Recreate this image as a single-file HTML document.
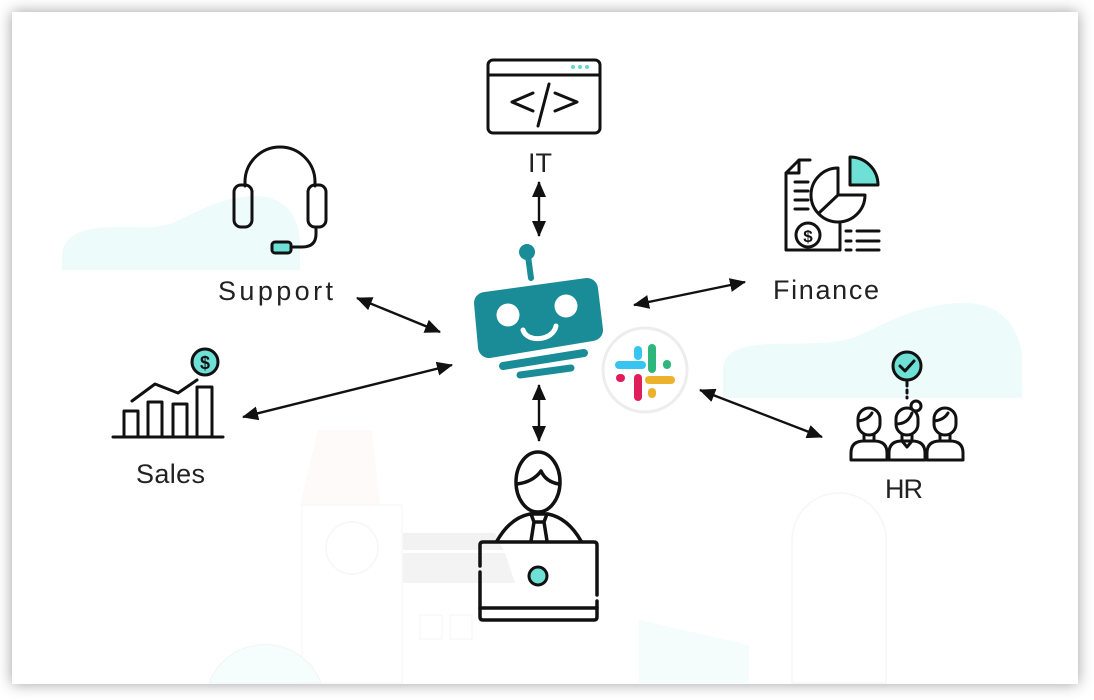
<!DOCTYPE html>
<html><head><meta charset="utf-8"><style>
html,body{margin:0;padding:0;background:#fff;width:1094px;height:700px;overflow:hidden;}
.card{position:absolute;left:12px;top:12px;width:1066px;height:672px;background:#fff;box-shadow:0 0 14px rgba(0,0,0,0.38);}
svg{position:absolute;left:0;top:0;display:block;}
text{font-family:"Liberation Sans",sans-serif;fill:#222;}
</style></head><body>
<div class="card"></div>
<svg width="1094" height="690" viewBox="0 0 1094 690" xmlns="http://www.w3.org/2000/svg">
<defs>
<marker id="ah" markerUnits="userSpaceOnUse" markerWidth="16" markerHeight="14" viewBox="0 0 16 14" refX="15" refY="7" orient="auto-start-reverse">
<path d="M0,0 L16,7 L0,14 z" fill="#111"/>
</marker>
</defs>
<!-- background decorations -->
<path d="M62,270 L62,258 C62,236 80,228 110,227 C140,226 155,230 175,222 C200,210 225,196 255,196 C285,196 298,215 300,240 L300,270 Z" fill="#eefbfb"/>
<path d="M723,398 L723,370 C723,352 740,345 770,344 C810,343 835,345 860,335 C895,318 925,303 965,303 C1000,303 1018,325 1022,355 L1022,398 Z" fill="#eefbfb"/>
<path d="M403,533 L495,533 L503,550 L403,550 Z" fill="#f2f2f2"/>
<path d="M403,553 L505,553 L515,583 L403,583 Z" fill="#f3f3f3"/>
<path d="M318,430 L372,430 L380,505 L300,505 Z" fill="#fefafa"/>
<rect x="302" y="505" width="100" height="178" fill="none" stroke="#f8f8f8" stroke-width="1.5"/>
<circle cx="352" cy="548" r="26" fill="none" stroke="#f6f6f6" stroke-width="1.5"/>
<path d="M209,683 A60,60 0 0 1 321,683 Z" fill="#f6fdfd" stroke="#f4f4f4"/>
<path d="M639,620 L749,645 L749,683 L639,683 Z" fill="#f4fcfc"/>
<path d="M792,540 A47,47 0 0 1 886,540 L886,683 L792,683 Z" fill="none" stroke="#f6f6f6" stroke-width="1.5"/>
<rect x="420" y="615" width="22" height="24" fill="none" stroke="#f4f4f4"/>
<rect x="450" y="615" width="22" height="24" fill="none" stroke="#f4f4f4"/>

<!-- arrows -->
<g stroke="#111" stroke-width="2.4" fill="none" marker-start="url(#ah)" marker-end="url(#ah)">
<line x1="357" y1="298" x2="440" y2="332"/>
<line x1="243" y1="417" x2="452" y2="365"/>
<line x1="539" y1="182" x2="539" y2="236"/>
<line x1="539" y1="385" x2="539" y2="441"/>
<line x1="634" y1="305" x2="745" y2="282"/>
<line x1="700" y1="390" x2="822" y2="437"/>
</g>

<!-- robot -->
<g fill="#1a8c98">
<circle cx="527" cy="252" r="8"/>
<line x1="528" y1="256" x2="531" y2="278" stroke="#1a8c98" stroke-width="6" stroke-linecap="round"/>
<polygon points="485,303 587,289 592,330 489,347" stroke="#1a8c98" stroke-width="22" stroke-linejoin="round"/>
<line x1="503" y1="366" x2="584" y2="353" stroke="#1a8c98" stroke-width="8" stroke-linecap="round"/>
<line x1="520" y1="375" x2="571" y2="368" stroke="#1a8c98" stroke-width="7" stroke-linecap="round"/>
</g>
<circle cx="508" cy="315" r="11.5" fill="#fff"/>
<circle cx="566" cy="306" r="11.5" fill="#fff"/>
<path d="M523,330 C527,343 553,341 556,326" fill="none" stroke="#fff" stroke-width="5" stroke-linecap="round"/>

<!-- slack -->
<circle cx="645" cy="370" r="42" fill="#fff" stroke="#ededed" stroke-width="3"/>
<g stroke-width="8" stroke-linecap="round" fill="none">
<line x1="619" y1="365" x2="642" y2="365" stroke="#36C5F0"/>
<line x1="638" y1="350" x2="638" y2="356" stroke="#36C5F0"/>
<line x1="652" y1="348" x2="652" y2="369" stroke="#2EB67D"/>
<line x1="667" y1="364" x2="667" y2="365" stroke="#2EB67D"/>
<line x1="620" y1="378" x2="621" y2="378" stroke="#E01E5A"/>
<line x1="638" y1="378" x2="638" y2="397" stroke="#E01E5A"/>
<line x1="649" y1="380" x2="671" y2="380" stroke="#ECB22E"/>
<line x1="652" y1="392" x2="652" y2="394" stroke="#ECB22E"/>
</g>

<!-- IT icon -->
<g fill="none" stroke="#111" stroke-width="3" stroke-linejoin="round" stroke-linecap="round">
<rect x="488" y="60" width="112" height="73" rx="5"/>
<line x1="488" y1="75" x2="600" y2="75"/>
<polyline points="533,93 512,102 533,111"/>
<polyline points="555,93 577,102 555,111"/>
<line x1="549" y1="84" x2="538" y2="126"/>
</g>
<circle cx="573" cy="67" r="2" fill="#5fd8d0"/>
<circle cx="580" cy="67" r="2" fill="#5fd8d0"/>
<circle cx="587" cy="67" r="2" fill="#5fd8d0"/>
<text x="540" y="172" font-size="27" text-anchor="middle">IT</text>

<!-- Support icon -->
<g fill="none" stroke="#111" stroke-width="3" stroke-linejoin="round" stroke-linecap="round">
<path d="M245,186 L245,182 A34,34 0 0 1 315,182 L315,186"/>
<rect x="234" y="185" width="18" height="42" rx="7"/>
<rect x="308" y="185" width="18" height="42" rx="7"/>
<path d="M316,227 L316,234 Q316,247 302,247 L291,247"/>
<rect x="272" y="242" width="19" height="11" rx="3" fill="#6ee0d6"/>
</g>
<text x="218" y="300" font-size="27" textLength="115" lengthAdjust="spacing">Support</text>

<!-- Finance icon -->
<g fill="none" stroke="#111" stroke-width="3" stroke-linejoin="round" stroke-linecap="round">
<path d="M810,160 L799,160 L786,173 L786,250 L840,250 L840,224"/>
<path d="M786,173 L799,173 L799,160"/>
<line x1="795" y1="182" x2="808" y2="182"/>
<line x1="795" y1="191" x2="808" y2="191"/>
<line x1="795" y1="200" x2="808" y2="200"/>
<line x1="795" y1="209" x2="808" y2="209"/>
<circle cx="808" cy="235" r="12"/>
<path d="M838,195 L838,168 A27,27 0 1 0 865,195 Z"/>
<line x1="838" y1="195" x2="819" y2="213"/>
<path d="M850,157 A28,28 0 0 1 878,185 L850,185 Z" fill="#6ee0d6"/>
<line x1="846" y1="231" x2="851" y2="231"/>
<line x1="857" y1="231" x2="879" y2="231"/>
<line x1="846" y1="241" x2="851" y2="241"/>
<line x1="857" y1="241" x2="879" y2="241"/>
<line x1="846" y1="250" x2="851" y2="250"/>
<line x1="857" y1="250" x2="879" y2="250"/>
</g>
<text x="808" y="242" font-size="17" font-weight="bold" text-anchor="middle" style="fill:#111">$</text>
<text x="773" y="299" font-size="27" textLength="106" lengthAdjust="spacing">Finance</text>

<!-- Sales icon -->
<g fill="none" stroke="#111" stroke-width="3" stroke-linejoin="round" stroke-linecap="round">
<line x1="113" y1="437" x2="223" y2="437"/>
<rect x="124" y="411" width="14" height="26"/>
<rect x="148" y="402" width="14" height="35"/>
<rect x="173" y="404" width="14" height="33"/>
<rect x="197" y="387" width="15" height="50"/>
<polyline points="132,401 155,384 178,393 197,380"/>
<circle cx="205" cy="362" r="13" fill="#6ee0d6"/>
</g>
<text x="205" y="369" font-size="18" font-weight="bold" text-anchor="middle" style="fill:#111">$</text>
<text x="136" y="483" font-size="27" textLength="69" lengthAdjust="spacing">Sales</text>

<!-- HR icon -->
<g fill="none" stroke="#111" stroke-width="3" stroke-linejoin="round" stroke-linecap="round">
<circle cx="907" cy="366" r="14" fill="#6ee0d6"/>
<polyline points="900,366 905,371 914,361"/>
<line x1="907" y1="381" x2="907" y2="386"/>
<line x1="907" y1="390" x2="907" y2="393"/>
<line x1="907" y1="397" x2="907" y2="398"/>
<rect x="858" y="408" width="22" height="27" rx="11"/>
<path d="M858,421 Q868,420 872,413"/>
<path d="M864,435 L864,441 M874,435 L874,441"/>
<path d="M851,460 L851,453 Q851,441 864,441 L874,441 Q887,441 887,453 L887,460 Z"/>
<rect x="934" y="408" width="22" height="27" rx="11"/>
<path d="M934,421 Q944,420 948,413"/>
<path d="M940,435 L940,441 M950,435 L950,441"/>
<path d="M927,460 L927,453 Q927,441 940,441 L950,441 Q963,441 963,453 L963,460 Z" fill="#fff"/>
<rect x="896" y="408" width="22" height="27" rx="11" fill="#fff"/>
<path d="M896,424 Q908,424 912,413"/>
<path d="M902,435 L902,441 M912,435 L912,441"/>
<path d="M889,460 L889,453 Q889,441 902,441 L912,441 Q925,441 925,453 L925,460 Z" fill="#fff"/>
<path d="M902,441 L907,447 L912,441"/>
<circle cx="916" cy="406" r="5" fill="#fff"/>
</g>
<text x="885" y="498" font-size="27" textLength="38" lengthAdjust="spacing">HR</text>

<!-- Laptop person -->
<g fill="none" stroke="#111" stroke-width="3.5" stroke-linejoin="round" stroke-linecap="round">
<ellipse cx="538" cy="482" rx="22" ry="30"/>
<path d="M517,484 Q533,482 541,471 Q546,482 559,484"/>
<path d="M497,541 Q510,518 530,514 L548,514 Q568,518 581,541"/>
<path d="M531,514 L534,522 L531,541 M547,514 L544,522 L547,541 M534,522 L544,522"/>
<path d="M480,566 L480,545 Q480,542 483,542 L594,542 Q597,542 597,545 L597,595"/>
<path d="M480,572 L480,617 Q480,620 483,620 L594,620 Q597,620 597,617 L597,601"/>
<line x1="480" y1="608" x2="597" y2="608"/>
<circle cx="538" cy="576" r="9" fill="#6ee0d6" stroke-width="3"/>
</g>
</svg>
</body></html>
